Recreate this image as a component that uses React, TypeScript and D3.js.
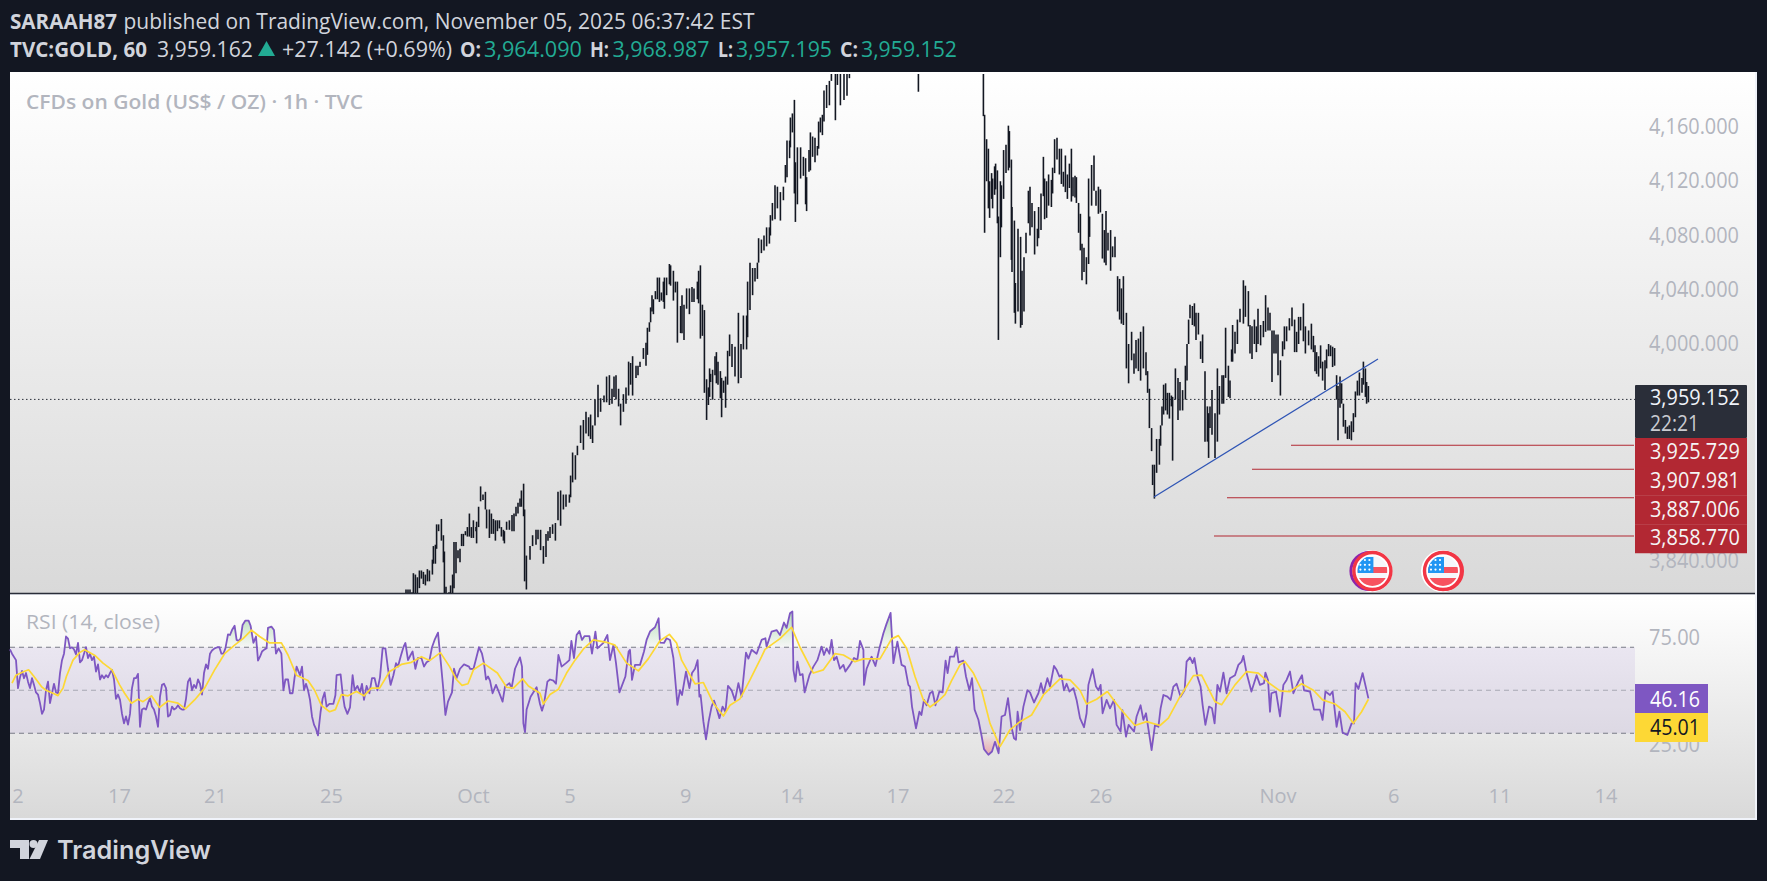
import * as d3 from "d3";

// Slots are half-pixel steps along the time axis; one slot is a bit over an hour.
// Bars are [slot, high, low].
const septBars: [number, number, number][] = [
  [199,3819,3810],[200,3819,3810],[201,3819,3810],[202,3817,3810],[202.7,3831,3810],[203.7,3830,3810],[204.7,3828,3810],
  [205.7,3833,3820],[206.7,3833,3827],[207.7,3832,3823],[208.7,3830,3822],[209.7,3834,3825],[210.7,3833,3825],[212.2,3841,3830],
  [212.7,3851,3838],[213.7,3852,3838],[214.3,3867,3849],[215.3,3867,3862],[216.7,3871,3855],[217.7,3859,3839],[218.2,3847,3810],
  [219,3821,3810],[220.5,3817,3810],[221.3,3822,3810],[222.3,3830,3810],[223,3854,3820],[224,3854,3831],[225,3848,3842],
  [226,3849,3839],[226.8,3860,3851],[227.7,3860,3851],[228.7,3862,3859],[229.7,3865,3858],[230.7,3875,3858],[231.7,3865,3857],
  [232.7,3870,3857],[234,3865,3862],[234.3,3869,3853],[235.3,3880,3865],[236.3,3895,3884],[237.5,3889,3885],[238.7,3891,3878],
  [239.3,3878,3864],[240.7,3878,3857],[241.7,3875,3860],[242.7,3871,3860],[243.7,3870,3855],[244.7,3870,3862],[245.7,3870,3864],
  [246.7,3865,3858],[247.7,3863,3855],[248.2,3862,3853],[249.3,3869,3863],[250.7,3870,3863],[252,3874,3862],[253,3875,3862],
  [254,3880,3873],[255,3883,3875],[256,3886,3880],[256.7,3892,3880],[257.8,3897,3873],[258.3,3878,3825],[259.2,3844,3819],
  [261,3851,3841],[262.3,3859,3851],[264,3863,3852],[265,3863,3856],[266.3,3863,3848],[267.7,3851,3838],[269,3860,3843],
  [270,3862,3855],[271,3865,3857],[272.3,3867,3860],[273.7,3868,3855],[275,3891,3870],[276.3,3892,3866],[277.7,3889,3878],
  [279,3889,3880],[280.7,3889,3883],[281.3,3903,3887],[282.3,3920,3898],[283.7,3918,3900],[284.7,3925,3918],[286.3,3940,3927],
  [287.7,3944,3922],[289,3950,3934],[290.3,3946,3932],[291.3,3948,3930],[292.3,3940,3927],[293.5,3959,3940],[295,3970,3946],
  [296.3,3960,3950],[298,3962,3957],[299.3,3976,3957],[300.7,3977,3955],[302,3967,3956],[303,3976,3961],[304,3977,3959],
  [305.3,3967,3954],[306.3,3956,3940],[307.7,3963,3950],[309,3968,3956],[310.3,3987,3962],[311.3,3986,3970],[312.3,3991,3962],
  [314,3984,3975],[315,3984,3977],
];

const octBars: [number, number, number][] = [
  [316,3987,3983],[317.7,3997,3989],[319,4001,3984],[319.7,4012,3992],[320.7,4016,4009],[321.3,4027,4016],[322,4036,4024],
  [322.7,4033,4022],[323.7,4039,4033],[324.7,4049,4033],[325.7,4049,4031],[326.7,4038,4032],[327.7,4046,4031],[328.2,4049,4026],
  [329.3,4049,4036],[330.7,4059,4044],[331.3,4058,4043],[332.7,4054,4032],[333.7,4046,4038],[334.7,4046,4001],[336.3,4028,4008],
  [337,4036,4008],[338,4029,4003],[339.3,4041,4026],[340.7,4041,4022],[342,4042,4031],[343,4041,4031],[344.7,4046,4033],
  [345.3,4054,4030],[346.2,4058,4004],[347.2,4029,4006],[348.2,4025,3964],[349.3,3974,3944],[350.2,3968,3955],[350.8,3982,3961],
  [351.3,3978,3972],[352.3,3981,3959],[353.5,3991,3977],[354.2,3994,3971],[355,3987,3970],[356.2,3980,3960],[356.8,3975,3946],
  [357.8,3973,3964],[358.8,3976,3953],[359.8,3995,3970],[360.8,4007,3991],[362,4000,3983],[363.5,3998,3976],[365.2,4023,3971],
  [366.5,4000,3975],[367.7,4021,3996],[369.3,4021,3996],[369.8,4046,4005],[371,4060,4025],[372.3,4056,4036],[373.5,4056,4046],
  [374.7,4060,4048],[375.3,4078,4060],[376.7,4077,4067],[378,4080,4069],[379.3,4086,4072],[380.7,4086,4074],[381.2,4095,4080],
  [382.2,4104,4091],[383.5,4117,4092],[384.7,4116,4100],[386.2,4112,4091],[387.7,4116,4106],[388.7,4132,4119],[389.5,4150,4123],
  [390.8,4150,4137],[391.2,4167,4145],[392.2,4170,4156],[393.2,4180,4111],[393.7,4134,4090],[394.7,4145,4103],[396.3,4145,4122],
  [397.7,4138,4124],[398.8,4137,4103],[399.3,4123,4098],[400.5,4143,4127],[401.2,4156,4128],[402.3,4153,4138],[403.5,4152,4134],
  [404.7,4146,4139],[405.3,4164,4144],[406.2,4167,4156],[407.2,4169,4154],[408,4187,4164],[409.3,4191,4174],[410.7,4194,4176],
  [411.7,4205,4194],[413.7,4205,4165],[414.7,4205,4191],[416.2,4205,4176],[418,4205,4180],[419.5,4205,4183],[420.7,4205,4196],
  [455.2,4210,4186],
];

const selloffBars: [number, number, number][] = [
  [487.7,4205,4168],[488.3,4169,4082],[489.3,4151,4120],[490.2,4144,4100],[490.8,4120,4093],[491.8,4126,4107],[492.3,4122,4100],
  [493.3,4131,4110],[493.8,4133,4114],[494.7,4128,4089],[495.2,4094,4003],[496.2,4120,4064],[496.7,4117,4086],[497.8,4143,4107],
  [499,4147,4126],[500.2,4161,4128],[500.7,4157,4130],[501.7,4136,4062],[502,4101,4053],[503.2,4091,4023],[503.7,4045,4015],
  [505,4085,4024],[506.3,4079,4012],[507,4054,4014],[508,4064,4024],[509,4082,4067],[510.2,4113,4089],[511,4116,4080],
  [512,4104,4086],[513.3,4098,4066],[514.7,4085,4072],[515.3,4101,4078],[516.5,4111,4084],[517.7,4138,4109],[518.3,4122,4092],
  [519.3,4120,4093],[520.3,4125,4102],[521.7,4121,4101],[522.3,4130,4111],[523.3,4151,4126],[524.5,4152,4136],[525.7,4144,4125],
  [526.7,4144,4118],[527.7,4127,4116],[528.7,4139,4112],[529.7,4125,4107],[530.7,4133,4115],[531.7,4144,4105],[532.5,4123,4109],
  [533.5,4124,4108],[534.2,4123,4104],[535.3,4104,4082],[536.2,4096,4069],[537,4074,4047],[538,4071,4053],[539.2,4064,4044],
  [540.3,4122,4059],[540.8,4094,4079],[541.8,4132,4102],[543,4139,4113],[544,4113,4102],[545.2,4116,4096],[546.2,4114,4097],
  [547.2,4096,4063],[548.2,4084,4060],[549,4098,4058],[550,4082,4069],[551.3,4084,4054],[552.3,4072,4064],[553.5,4079,4064],
  [554.8,4050,4024],[555.8,4048,4018],[556.7,4041,4015],[557.7,4050,4014],[559.2,4023,3982],[560.3,4000,3971],[561.8,4009,3988],
  [563,3993,3978],[564,4003,3982],[565.2,4004,3980],[566.3,4009,3973],[567.7,4013,3982],[569,3994,3977],[569.8,3980,3964],
  [570.7,3967,3938],[571.8,3938,3921],[572.3,3911,3896],[573.2,3911,3886],
];

const novBars: [number, number, number][] = [
  [574.3,3930,3905],[575.7,3930,3911],[576.3,3940,3925],[577,3954,3940],[577.8,3970,3948],[578.8,3971,3951],[579.7,3964,3948],
  [580.7,3964,3945],[581.7,3962,3954],[582.3,3961,3914],[583.7,3982,3959],[585,3975,3944],[586,3972,3951],[587.3,3966,3951],
  [588.7,3984,3959],[589.5,4000,3973],[590.3,4018,4000],[591,4029,4019],[592.2,4028,4014],[593.2,4030,4013],[594,4023,4003],
  [595.2,4023,4007],[596.3,4002,3989],[597.3,4007,3986],[598.5,3980,3928],[599.7,3954,3928],[600.3,3949,3916],[601,3954,3938],
  [602,3966,3933],[603.5,3949,3916],[604.7,3982,3928],[605.7,3969,3948],[607,3977,3956],[607.8,3977,3956],[608.8,4012,3975],
  [610.2,3984,3961],[611,3973,3960],[611.8,3996,3987],[612.3,4014,3987],[613.5,4009,3993],[614.7,4018,4000],[616,4026,4016],
  [617.7,4047,4015],[618.7,4043,4020],[620.2,4039,4013],[621,4014,3993],[622,4013,3989],[623.2,4018,4000],[624.2,4013,3994],
  [625,4026,4000],[626.3,4014,3999],[627.7,4017,4005],[628.8,4036,4009],[630,4027,4010],[631,4023,4010],[632,4010,3972],
  [633,4010,3993],[634,4007,3993],[635,4007,3977],[636.2,3988,3962],[637.3,4002,3991],[638.2,4013,3996],[639.3,4013,4002],
  [640.7,4019,4010],[642,4027,4013],[643.3,4018,3994],[644.3,4009,3994],[645.3,4020,4000],[646.3,4020,4010],[647.7,4030,4002],
  [648.7,4013,3993],[650.3,4010,3999],[651.7,4015,3996],[652.7,4006,3994],[653.5,3999,3980],[654.3,3994,3978],[655.3,3991,3976],
  [656.3,3999,3982],[657.3,3987,3973],[658.5,3988,3966],[659.3,3996,3982],[660.3,4000,3991],[661.3,3999,3991],[662.3,3998,3983],
  [663.3,3997,3984],[664.3,3977,3959],[665,3969,3929],[666,3976,3953],[666.8,3971,3956],[667.7,3956,3939],[668.7,3944,3934],
  [669.7,3939,3930],[670.7,3940,3930],[671.7,3943,3929],[672.7,3949,3935],[673.7,3965,3946],[674.7,3973,3962],[675.7,3979,3962],
  [677,3975,3964],[677.7,3987,3970],[678.7,3982,3961],[679.3,3972,3956],[680.2,3969,3957],
];

// [slot, RSI]
const rsiLine: [number, number][] = [
  [1,69],[2,67],[4,64],[5,51],[6,56],[7,59],[8,55.6],[9,58],[10,54],[11,51],[12,55.6],[13,52.5],[14,49],[15,48],[16,44],[17,39],[18,41],[19,50],[20,54],
  [21,44],[22,48.6],[23,53],[24,49],[25,48.6],[26,58],[27,64],[28,67],[29,75],[30,74],[31,69.5],[32,70],[33,69],[34,66.7],[35,72],[36,63],[37,64],[38,67],[39,70],[40,65],
  [41,67],[42,64],[43,65.6],[44,58.7],[45,62],[46,55],[47,57],[48,55.6],[49,57],[50,56],[51,58],[52,59.5],[53,55],[54,46],[55,48],[56,45.5],[57,39],[58,34.6],[59,37.8],[60,34],
  [61,39],[62,51],[63,55.6],[64,55.6],[65,57.6],[66,33],[67,41],[68,41.6],[69,41],[70,44],[71,46.3],[72,42.4],[73,41],[74,37.8],[75,33],[76,47],[77,52.5],[78,53],[79,51],[80,37.8],
  [81,38.5],[82,42.4],[83,41],[84,41.6],[85,43],[86,41.6],[87,41],[88,41],[89,46],[90,54],[91,55.6],[92,50],[93,52.5],[94,51],[95,55],[96,53],[97,48],[98,58],[99,62],[100,60],
  [101,67],[102,68.5],[103.3,69.5],[104.7,70],[105.7,70],[106.7,67],[107.7,67],[108.7,69.5],[110,76],[111,75.7],[112,78],[113.3,80],[114.3,73.4],[115.3,73],[116.3,74],[117.3,80.4],[118.7,82.4],[120.3,82.4],[121.3,80],
  [122.7,72],[124,75],[125,63.8],[126,65.6],[127,68],[128.3,69],[129.3,69.5],[130,79],[131.7,79.6],[133,78],[134,67],[135.3,69.5],[136.7,67],[137.7,50],[138.7,55],[140,55],[141,48.6],[142.3,48.6],
  [143.3,56],[144.3,61],[146,57],[147,61],[148,50],[149,53],[150,50],[151,45.5],[152,37.8],[153,34],[154,32],[155,29],[156.3,40],[157.3,46],[158.3,49],[159.3,42.4],[160.7,43.7],[162.7,43.7],[163.7,47.7],
  [164.3,57],[166.3,57.4],[167.3,48.6],[168.3,42.4],[169.7,39],[171,42],[172.3,57],[173.3,50],[174.7,52],[176,49],[177,53],[178,45.5],[179.3,52],[180.7,48.6],[182,55.6],[183.3,55.6],[184.7,50],[186,56],
  [187.3,69.5],[188.7,69.5],[190,60],[191.3,52.5],[192.7,57],[194,62.6],[195,61],[196.3,65.6],[197.7,70],[198.7,72],[200,64],[201.3,66.4],[202.3,68],[203.7,60],[205,65],[206.7,65],[208,61],[209.3,63],
  [210.7,63.8],[212,70],[213.3,73.4],[215,76.8],[216.3,64],[217.7,50],[218.7,38.5],[220,44.7],[222,49],[223,60],[224.3,55.6],[226,60],[228,62],[230.5,61],
  [231,60],[232.7,59.8],[235.5,70],[237,67],[238,62.6],[239,55],[240,56.4],[241,54.5],[242.3,48.6],[244,52.5],[245.7,48.6],[247.3,44.7],[248.5,51.7],[250.7,53.3],[251.8,51],[253.5,60],
  [256,65.3],[257,61],[257.7,34.6],[258.5,30.5],[259.3,41],[261.3,47],[264.3,51.4],[266,43.6],[267,40.5],[268,43.6],[269.7,54],[271,55],[272.7,54.5],[274,53],[275.2,66.4],[276.8,61],
  [279,62.6],[280.7,64],[281.7,73],[283,65],[284.3,75.7],[285.7,77.6],[287,73.4],[288.3,75.2],[290.7,75.2],[292,67],[293.7,77.3],[294.7,69.5],[297.7,72],[299.7,75.7],[301,64],[302.7,71],
  [304,62.6],[305.7,49],[308.7,56.4],[310.3,68],[311,68.8],[312,54.8],[313.5,61.8],[316,61.8],[318,68],[319.3,73.4],[321,77.3],[323.5,79.3],[325.3,83.5],[326,72.2],[328,72],[329.3,74.2],
  [331,73.4],[332.7,65],[334.7,43.2],[336,50],[337,47.8],[339,58.7],[340.7,51],[342,58],[343.5,60],[344.8,64],[345.7,47],[346.3,47.8],[347.7,35.4],[349,27.2],[350.3,35.4],[351.8,42.4],
  [353,45.2],[354.3,41.6],[355.7,37],[357.3,42.4],[358.7,40],[360,52],[361.8,50],[363.5,45.3],[365.2,53.3],[366.8,47],[369,67.5],[370.2,64.7],[371.8,68.8],[374.3,67],[376.8,73.4],[378.7,74.2],
  [379.3,70.3],[381.8,77.3],[384.3,78],[386,75.7],[388,81.5],[389.3,79],[391,85.8],[392.2,86.6],[392.7,59.5],[393.7,54],[394.7,63.3],[396,57],[397.3,57.5],[398.3,49],[400.7,57],[402.7,61],
  [404.7,64],[406.8,70.3],[408,66.4],[409.3,69.5],[410.7,67],[411.8,73.4],[413,64],[414.3,65.6],[416,60],[417.7,61.8],[418.7,58.7],[421,61.8],[423,65],[424.7,64.2],[426,73],[427.7,68.8],
  [428,52.5],[429.3,60],[431.8,65.6],[433.7,61.3],[435.7,69.5],[437.7,76.5],[439.3,81],[441.3,86],[442.7,62.6],[444.7,72.6],[446.8,61.8],[448.5,61],[450.2,52.5],[451,51.7],[452,42.4],[454,32.3],
  [455.7,40],[456.7,38.5],[458,45.5],[459.3,43],[461,48.6],[462.3,49.4],[463.7,43],[465.7,49.4],[467.3,49],[468.8,63.8],[469.8,58],[471,65.6],[473,65.6],[474.3,70],[475.3,63],[477.7,63.8],
  [479,56.4],[480.7,50],[482,55.6],[483.3,41],[485.2,36.3],[486.7,29.2],[488,22.6],[490.2,20],[492,21.5],[493.5,26],[495.3,20.7],[496.8,37.8],[498.5,38.5],[500,46.3],[501.7,33],[503,27.7],
  [504,27],[504.8,40],[506,31.5],[507.7,42.4],[509.7,50],[511,49],[513,44.3],[515.2,48.6],[516.5,53.3],[517.7,48.6],[519.7,55.6],[521,51.7],[523,61.3],[524.3,59.5],[525.7,56.4],[526.7,57],
  [528,50],[529.3,53],[530.7,49.4],[532.7,51],[534.3,45.5],[536,37],[538,32.8],[539.3,39.3],[540.2,52.5],[542.3,59.8],[544,51.7],[545.2,50],[546.3,52.5],[547.3,39.3],[549.3,45.5],[551,41.6],
  [553,45.5],[554.3,33.9],[556.3,30.8],[557.2,40.8],[559,28.4],[560.3,33.9],[563,30.8],[564.3,37.8],[566.3,43],[567.7,36.2],[569,39.3],[570.3,31.5],[571.8,22.2],[573.5,33.9],[575.2,33],[576.3,41.6],
  [577.7,47.8],[579.7,47],[581.3,45.5],[582.7,51.7],[584.3,53],[586.3,47],[588.3,50],[589.3,63.3],[591,65.3],[592.3,62.6],[593.2,65],[594.7,56.4],[596.3,51.7],[597.3,43.2],[598.7,33.9],[600.5,42.4],
  [602,41.6],[603.3,34.6],[604.7,52.5],[606,49.4],[607.7,58.2],[609.3,48.6],[611,55.6],[613.5,57],[615.2,61.8],[616.8,63.3],[617.7,66],[619.3,58],[621.7,49.4],[624.3,57],[626,52.5],[628,53.3],
  [628.7,58.2],[630,54.8],[631,40],[631.7,48.6],[634,49.4],[636,37.8],[637.7,52.5],[639.3,54.8],[641,58.7],[642.7,48.6],[645.2,54],[647,57],[648,50],[651,49.4],[653,41],[656,41],
  [657.3,36.2],[658.7,49.4],[661,47.8],[662.3,49.4],[664.3,33],[665.7,40],[667.3,30.3],[669.7,29.2],[671.8,34.6],[673,34.6],[673.8,53.3],[675.2,50.6],[677.3,58],[680.2,46.2],
];

const rsiMaLine: [number, number][] = [
  [2,53.3],[4,57],[8,58.7],[10.3,59.5],[13,56.4],[16.7,51.7],[19,50],[22.5,48.6],[25,47.5],[27.5,51],[29.2,56.4],[32.5,64],[35.8,67.5],[38.3,68.8],[43.7,66],[47.5,62.6],[52,59.5],[55.8,52.5],
  [58.3,48.6],[61.7,44],[65,45.8],[67.5,44.7],[71.7,47.4],[75.8,42],[80,45],[85,44],[88.7,41.3],[93.3,45.5],[98.3,51],[103.3,59.5],[108.3,67],[113.3,71],[117.5,74],[121.7,78],[125.8,75],[130.8,72],
  [136.7,72],[140,66.4],[144.2,57],[150,54.5],[153.3,50],[156.7,43],[160.8,40],[163.7,41],[166.7,48],[170,47.4],[174.2,49.4],[178,47.4],[181.7,51],[185.8,51],[190.8,58.7],[196.7,62],[201.7,63],
  [206.7,65.6],[210.8,63.8],[216.2,67.5],[220.8,61],[224.2,55],[227,52.3],[230,53],[232.7,59.5],[237.7,62.6],[244.7,58],[249.3,51.4],[252.7,51],[257.3,55.3],[260.2,52],[266,48.6],[267.7,43.6],
  [271,48],[275.2,50.5],[279.3,58],[283.5,64],[288,69.5],[292.7,73.4],[299.3,72.3],[303.5,71],[309.3,62.6],[315.2,59],[320.2,64.7],[326,73],[330.7,76],[334.3,72],[336.8,64],[341,57],[343.5,53],
  [347.7,53.6],[352.7,44],[357.7,38],[361,43],[366,46],[371,54.8],[376.8,65.6],[378.5,69],[386,74],[391.8,79.3],[396,70],[402.7,58],[407.7,59.5],[413.5,67],[417.7,66.4],[423.5,63.3],[427.7,64.6],
  [436,64.6],[441.8,73.9],[445.2,75.4],[449.3,69.5],[453.5,56.4],[457.7,45.5],[461,42.2],[465.2,45],[468.5,48],[471.8,54.5],[476,61.8],[478.5,63.3],[482.7,58],[486.8,50],[491,34.6],[496,23.8],
  [501,31.6],[506,35.4],[511.8,38.5],[517.7,47.8],[526,55.3],[531,54.8],[536,50],[539.3,43.6],[544.3,45.8],[549.7,49.4],[554.3,43.6],[557.7,39.8],[563.5,33.6],[569.3,35.4],[576,33.6],[580.2,37],
  [586,47],[592.7,56.8],[596.8,57],[603.5,44.7],[606.8,43.3],[613.5,52.5],[619.3,58.7],[625.2,58],[631,53],[636,49.7],[641,49.4],[646.8,53],[652.7,50],[657.3,45.5],[663.5,43.6],[668.5,40],
  [672.7,34.6],[676.8,40],[680.2,45.8],
];

const priceTicks = [4160, 4120, 4080, 4040, 4000, 3840];
const rsiTicks = [75, 25];
const rsiLevels = [70, 50, 30];
const dateLabels = ["2", "17", "21", "25", "Oct", "5", "9", "14", "17", "22", "26", "Nov", "6", "11", "14"];
const dateSlots = [5, 55.7, 103.7, 161.7, 232.7, 281, 338.9, 392, 445, 498, 546.5, 635, 692.8, 746, 799];

const lastPrice = 3959.152;
const levelPrices = [3925.729, 3907.981, 3887.006, 3858.77];
const levelLabels = ["3,925.729", "3,907.981", "3,887.006", "3,858.770"];
const levelStarts = [641.5, 622, 609.5, 603];
const trendSlots = [573, 685];
const trendPrices = [3887.2, 3988.9];
const eventSlots = [682.2, 717.5];

const W = 1767;
const H = 881;
const FONT = "'Open Sans', sans-serif";
const PANE_LEFT = 10;
const PANE_RIGHT = 1755;
const PLOT_RIGHT = 1635;
const MAIN_TOP = 72;
const MAIN_BOTTOM = 593;
const RSI_TOP = 595;
const RSI_BOTTOM = 818;

const x = d3.scaleLinear().domain([0, 813.5]).range([8, PLOT_RIGHT]);
const y = d3.scaleLinear().domain([3840, 4160]).range([561, 127]);
const yRsi = d3.scaleLinear().domain([25, 75]).range([744, 636.5]);

const rsiPath = d3.line<[number, number]>().x((d) => x(d[0])).y((d) => yRsi(d[1]));
const rsiArea70 = d3.area<[number, number]>().x((d) => x(d[0])).y0(yRsi(70)).y1((d) => yRsi(d[1]));
const rsiArea30 = d3.area<[number, number]>().x((d) => x(d[0])).y0(yRsi(30)).y1((d) => yRsi(d[1]));

function T(props: any) {
  const { len, children, ...rest } = props;
  return (
    <text
      fontFamily={FONT}
      dominantBaseline="central"
      textLength={len}
      lengthAdjust={len ? "spacingAndGlyphs" : undefined}
      {...rest}
    >
      {children}
    </text>
  );
}

function Flag({ cx, purple }: { cx: number; purple: boolean }) {
  const cy = 571;
  const stars: [number, number][] = [];
  for (let r = 0; r < 3; r++) for (let c = 0; c < 3; c++) stars.push([cx - 12 + c * 4.5, cy - 11 + r * 4.8]);
  return (
    <g>
      <circle cx={cx - 1} cy={cy} r={21} fill="#ffffff" />
      {purple ? (
        <circle cx={cx - 3} cy={cy} r={18.5} fill="none" stroke="#8e24aa" strokeWidth={3} />
      ) : (
        <circle cx={cx + 1} cy={cy} r={18.5} fill="none" stroke="#f23645" strokeWidth={3} />
      )}
      <circle cx={cx} cy={cy} r={18.5} fill="#ffffff" stroke="#f23645" strokeWidth={3.4} />
      <clipPath id={`flag-${cx}`}>
        <circle cx={cx} cy={cy} r={15} />
      </clipPath>
      <g clipPath={`url(#flag-${cx})`}>
        <rect x={cx - 15} y={cy - 15} width={30} height={30} fill="#f5f7fb" />
        <rect x={cx - 15} y={cy - 4} width={30} height={6} fill="#f7525f" />
        <rect x={cx - 15} y={cy + 7} width={30} height={8} fill="#f7525f" />
        <rect x={cx - 15} y={cy - 14} width={16} height={16} fill="#2196f3" />
        {stars.map((s, i) => (
          <circle key={i} cx={s[0]} cy={s[1]} r={1.1} fill="#ffffff" />
        ))}
      </g>
    </g>
  );
}

export default function App() {
  const bars = [...septBars, ...octBars, ...selloffBars, ...novBars];
  const green = "#22ab94";
  const head = "#d1d4dc";

  return (
    <div style={{ position: "absolute", left: 0, top: 0, width: W, height: H }}>
      <svg width={W} height={H} style={{ display: "block" }}>
        <defs>
          <linearGradient id="pane" x1="0" y1="0" x2="0" y2="1">
            <stop offset="0" stopColor="#ffffff" />
            <stop offset="1" stopColor="#d9d9d9" />
          </linearGradient>
          <linearGradient id="over" gradientUnits="userSpaceOnUse" x1="0" y1={yRsi(86)} x2="0" y2={yRsi(70)}>
            <stop offset="0" stopColor="#4caf50" stopOpacity={0.4} />
            <stop offset="1" stopColor="#4caf50" stopOpacity={0} />
          </linearGradient>
          <linearGradient id="under" gradientUnits="userSpaceOnUse" x1="0" y1={yRsi(30)} x2="0" y2={yRsi(20)}>
            <stop offset="0" stopColor="#f23645" stopOpacity={0} />
            <stop offset="1" stopColor="#f23645" stopOpacity={0.35} />
          </linearGradient>
          <clipPath id="mainClip">
            <rect x={PANE_LEFT} y={MAIN_TOP + 2} width={PLOT_RIGHT - PANE_LEFT} height={MAIN_BOTTOM - MAIN_TOP - 2} />
          </clipPath>
          <clipPath id="aboveClip">
            <rect x={PANE_LEFT} y={RSI_TOP} width={PLOT_RIGHT - PANE_LEFT} height={yRsi(70) - RSI_TOP} />
          </clipPath>
          <clipPath id="belowClip">
            <rect x={PANE_LEFT} y={yRsi(30)} width={PLOT_RIGHT - PANE_LEFT} height={RSI_BOTTOM - yRsi(30)} />
          </clipPath>
        </defs>

        <rect width={W} height={H} fill="#131722" />
        <rect x={PANE_LEFT} y={MAIN_TOP} width={PANE_RIGHT - PANE_LEFT + 2} height={820 - MAIN_TOP} fill="#f0f3fa" />
        <rect x={PANE_LEFT} y={MAIN_TOP} width={PANE_RIGHT - PANE_LEFT} height={MAIN_BOTTOM - MAIN_TOP} fill="url(#pane)" />
        <rect x={PANE_LEFT} y={RSI_TOP} width={PANE_RIGHT - PANE_LEFT} height={RSI_BOTTOM - RSI_TOP} fill="url(#pane)" />
        <line x1={PANE_LEFT} x2={PANE_RIGHT} y1={593.5} y2={593.5} stroke="#2a2e39" strokeWidth={1.4} />

        {/* header */}
        <T x={10} y={21} fontSize={21} fontWeight={700} fill={head} len={107}>SARAAH87</T>
        <T x={123.5} y={21} fontSize={21} fill={head} len={631}>published on TradingView.com, November 05, 2025 06:37:42 EST</T>
        <T x={10} y={49} fontSize={21} fontWeight={700} fill={head} len={137}>TVC:GOLD, 60</T>
        <T x={157} y={49} fontSize={21} fill={head} len={96}>3,959.162</T>
        <path d="M258 56 L266.5 41 L275 56 Z" fill={green} />
        <T x={282} y={49} fontSize={21} fill={head} len={170}>+27.142 (+0.69%)</T>
        <T x={460} y={49} fontSize={21} fontWeight={700} fill={head} len={21}>O:</T>
        <T x={484} y={49} fontSize={21} fill={green} len={98}>3,964.090</T>
        <T x={590} y={49} fontSize={21} fontWeight={700} fill={head} len={19}>H:</T>
        <T x={612.5} y={49} fontSize={21} fill={green} len={97}>3,968.987</T>
        <T x={718} y={49} fontSize={21} fontWeight={700} fill={head} len={15}>L:</T>
        <T x={736} y={49} fontSize={21} fill={green} len={96}>3,957.195</T>
        <T x={840} y={49} fontSize={21} fontWeight={700} fill={head} len={18}>C:</T>
        <T x={861} y={49} fontSize={21} fill={green} len={96}>3,959.152</T>

        <T x={26} y={101} fontSize={20} fontWeight={600} fill="#b2b5be" len={337}>CFDs on Gold (US$ / OZ) · 1h · TVC</T>

        {/* price axis */}
        {priceTicks.map((t) => (
          <T key={t} x={1649} y={y(t) - 1} fontSize={21} fill="#b2b5be" len={90}>
            {d3.format(",.3f")(t)}
          </T>
        ))}

        {/* price bars */}
        <g clipPath="url(#mainClip)">
          <line x1={PANE_LEFT} x2={PLOT_RIGHT} y1={y(lastPrice)} y2={y(lastPrice)} stroke="#2a2e39" strokeWidth={1} strokeDasharray="1.5 2.5" />
          {bars.map((b, i) => (
            <line key={i} x1={x(b[0])} x2={x(b[0])} y1={y(b[1])} y2={y(b[2])} stroke="#131722" strokeWidth={1.6} />
          ))}
          <line x1={x(trendSlots[0])} x2={x(trendSlots[1])} y1={y(trendPrices[0])} y2={y(trendPrices[1])} stroke="#2f55b5" strokeWidth={1.3} />
          {levelPrices.map((p, i) => (
            <line key={p} x1={x(levelStarts[i])} x2={PLOT_RIGHT - 1} y1={y(p) + 0.5} y2={y(p) + 0.5} stroke="#b22833" strokeWidth={1.1} />
          ))}
        </g>

        {eventSlots.map((s, i) => (
          <Flag key={s} cx={x(s)} purple={i === 0} />
        ))}

        {/* price labels */}
        <rect x={PLOT_RIGHT} y={385} width={112} height={53} fill="#2a2e39" rx={1} />
        <T x={1650} y={397} fontSize={21} fill="#f0f3fa" len={90}>3,959.152</T>
        <T x={1650} y={423} fontSize={21} fill="#c9cbd1" len={49}>22:21</T>
        {levelLabels.map((l, i) => (
          <g key={l}>
            <rect x={PLOT_RIGHT} y={438 + i * 28.75} width={112} height={29} fill="#b22833" />
            <T x={1650} y={451 + i * 28.75} fontSize={21} fill="#f5f5f5" len={90}>{l}</T>
          </g>
        ))}

        {/* RSI */}
        <rect x={PANE_LEFT} y={yRsi(70)} width={PLOT_RIGHT - PANE_LEFT} height={yRsi(30) - yRsi(70)} fill="#7e57c2" fillOpacity={0.1} />
        {rsiLevels.map((l) => (
          <line
            key={l}
            x1={PANE_LEFT}
            x2={PLOT_RIGHT - 1}
            y1={yRsi(l)}
            y2={yRsi(l)}
            stroke="#787b86"
            strokeOpacity={l === 50 ? 0.55 : 1}
            strokeWidth={1.2}
            strokeDasharray="5 4"
          />
        ))}
        <path d={rsiArea70(rsiLine) ?? ""} fill="url(#over)" clipPath="url(#aboveClip)" />
        <path d={rsiArea30(rsiLine) ?? ""} fill="url(#under)" clipPath="url(#belowClip)" />
        <path d={rsiPath(rsiLine) ?? ""} fill="none" stroke="#7e57c2" strokeWidth={1.8} strokeLinejoin="round" />
        <path d={rsiPath(rsiMaLine) ?? ""} fill="none" stroke="#fdd835" strokeWidth={1.7} strokeLinejoin="round" />
        <T x={26} y={621} fontSize={20} fill="#b2b5be" len={134}>RSI (14, close)</T>

        {rsiTicks.map((t) => (
          <T key={t} x={1649} y={yRsi(t)} fontSize={21} fill="#b2b5be" len={51}>
            {t.toFixed(2)}
          </T>
        ))}
        <rect x={PLOT_RIGHT} y={684} width={73} height={29} fill="#7e57c2" />
        <T x={1650} y={699} fontSize={21} fill="#ffffff" len={50}>46.16</T>
        <rect x={PLOT_RIGHT} y={713} width={73} height={29} fill="#fdd835" />
        <T x={1650} y={727} fontSize={21} fill="#131722" len={50}>45.01</T>

        {/* time axis */}
        {dateLabels.map((l, i) => (
          <T key={i} x={x(dateSlots[i])} y={795} fontSize={20} fill="#b2b5be" textAnchor="middle">
            {l}
          </T>
        ))}

        {/* logo */}
        <g fill="#d1d4dc">
          <path d="M10 840 H29 V859 H20 V848 H10 Z" />
          <circle cx={33.5} cy={844} r={4} />
          <path d="M39 840 H48 L40 859 H29.5 Z" />
        </g>
        <T x={57} y={850} fontSize={25} fontWeight={600} fontFamily="Inter, sans-serif" fill="#d1d4dc" len={154}>TradingView</T>
      </svg>
    </div>
  );
}
